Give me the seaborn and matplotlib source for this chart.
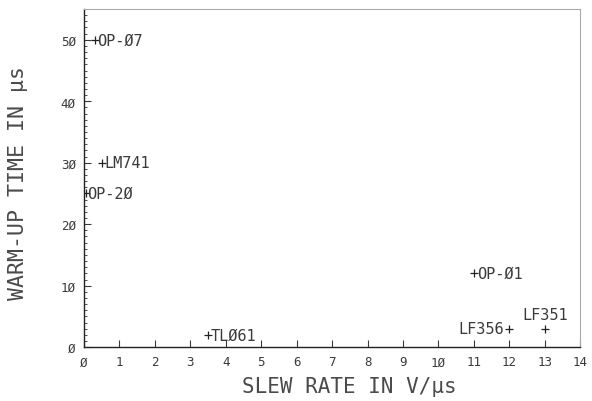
import matplotlib
matplotlib.use("Agg")
from matplotlib import pyplot as plt
from matplotlib.ticker import MultipleLocator
import pandas as pd
import seaborn as sns

# op-amp warm-up data
devices = ["OP-07", "LM741", "OP-20", "TL061", "OP-01", "LF356", "LF351"]
slew_rate = [0.3, 0.5, 0.05, 3.5, 11.0, 12.0, 13.0]
warmup_time = [50, 30, 25, 2, 12, 3, 3]
x_ticks = list(range(0, 15))
y_ticks = [0, 10, 20, 30, 40, 50]


def slashed(s):
    # plotter style zero
    return s.replace("0", "\u00d8")


def warmup_vs_slew_rate():
    data = pd.DataFrame({"device": devices, "slew": slew_rate, "warmup": warmup_time})

    sns.set_style("white")
    plt.rcParams["font.family"] = ["DejaVu Sans Mono", "DejaVu Sans"]
    fig = plt.figure(figsize=(5.92, 4.02), dpi=100)
    ax = fig.add_axes([0.142, 0.134, 0.838, 0.841])

    sns.scatterplot(data=data, x="slew", y="warmup", marker="+", s=30,
                    color="#222222", linewidth=0.9, ax=ax, legend=False)

    # label placement (offsets in points)
    offsets = {
        "OP-07": (2, 0, "left", "center"),
        "LM741": (2, 0, "left", "center"),
        "OP-20": (1, 0, "left", "center"),
        "TL061": (2, 0, "left", "center"),
        "OP-01": (2, 0, "left", "center"),
        "LF356": (-4, 0, "right", "center"),
        "LF351": (0, 5, "center", "bottom"),
    }
    for name, x, y in zip(devices, slew_rate, warmup_time):
        dx, dy, ha, va = offsets[name]
        ax.annotate(slashed(name), (x, y), xytext=(dx, dy), textcoords="offset points",
                    ha=ha, va=va, fontsize=11, color="#3a3a3a")

    ax.set_xlim(0, 14)
    ax.set_ylim(0, 55)
    ax.set_xticks(x_ticks)
    ax.set_xticklabels([slashed(str(t)) for t in x_ticks])
    ax.set_yticks(y_ticks)
    ax.set_yticklabels([slashed(str(t)) for t in y_ticks])
    ax.yaxis.set_minor_locator(MultipleLocator(1))
    ax.tick_params(axis="both", which="major", direction="in", length=5, width=0.8,
                   labelsize=9, colors="#3a3a3a", pad=6)
    ax.tick_params(axis="y", which="minor", direction="in", length=2.5, width=0.6,
                   color="#333333", left=True)
    ax.tick_params(axis="x", which="major", bottom=True)
    ax.tick_params(axis="y", which="major", left=True)

    for side in ["left", "bottom"]:
        ax.spines[side].set_color("#222222")
        ax.spines[side].set_linewidth(1.0)
    for side in ["top", "right"]:
        ax.spines[side].set_color("#aaaaaa")
        ax.spines[side].set_linewidth(0.8)

    ax.set_xlabel("SLEW RATE IN V/\u03bcs", fontsize=15, color="#4a4a4a")
    ax.set_ylabel("WARM-UP TIME IN \u03bcs", fontsize=15.5, color="#4a4a4a")
    ax.xaxis.set_label_coords(0.534, -0.086)
    ax.yaxis.set_label_coords(-0.113, 0.488)

    plt.savefig("out.png", dpi=100, facecolor="white")


def main():
    warmup_vs_slew_rate()


if __name__ == "__main__":
    main()
